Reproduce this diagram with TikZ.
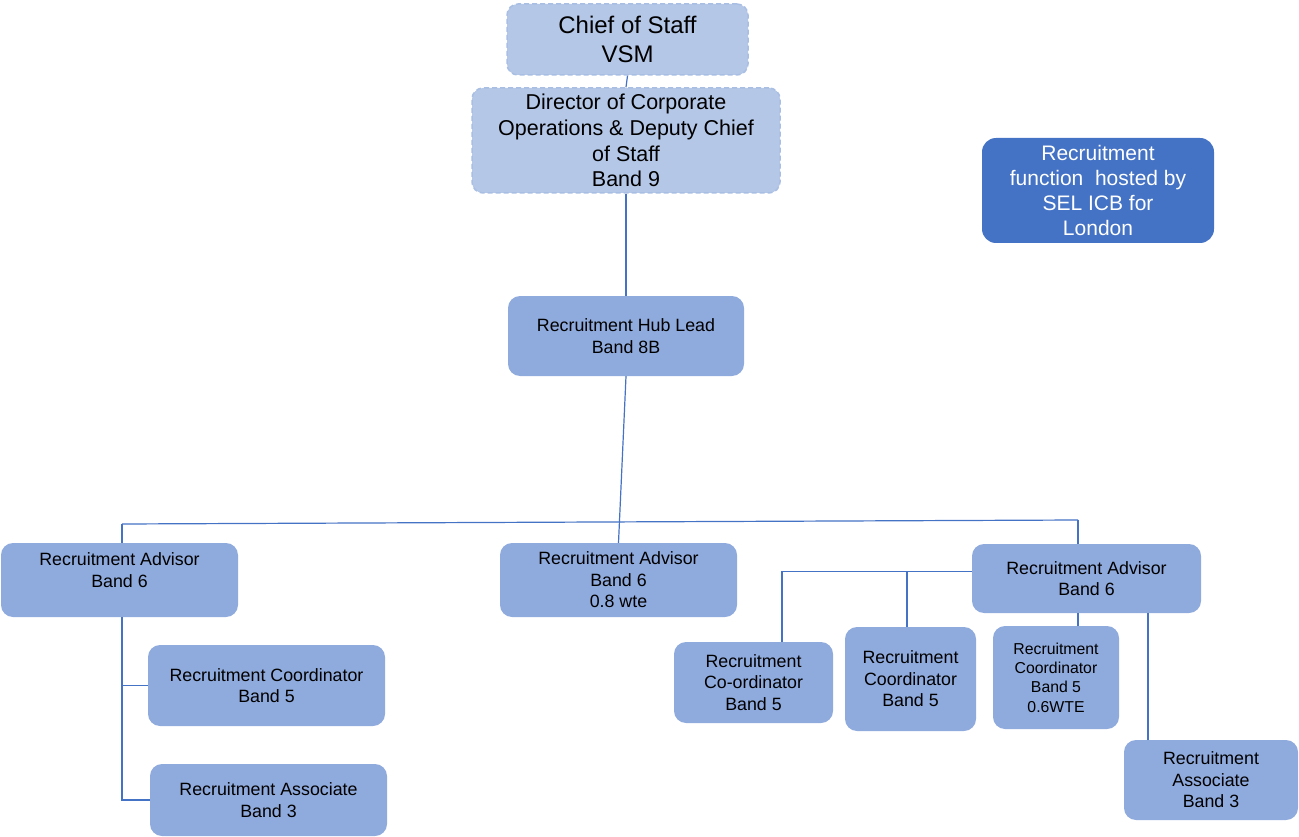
\documentclass[tikz,border=0pt]{standalone}
\usepackage{fontspec}
\setmainfont{Liberation Sans}
\definecolor{toplight}{HTML}{B4C7E7}
\definecolor{topedge}{HTML}{A9BEE3}
\definecolor{rolefill}{HTML}{8FAADC}
\definecolor{hostfill}{HTML}{4472C4}
\definecolor{linkblue}{HTML}{4472C4}
\begin{document}
\begin{tikzpicture}[x=1pt, y=-1pt,
  topbox/.style={draw=topedge, dash pattern=on 5pt off 3pt, line width=1.5pt,
    fill=toplight, rounded corners=11pt, align=center, inner sep=0pt},
  role/.style={fill=rolefill, rounded corners=12pt, align=center, inner sep=0pt,
    font=\fontsize{17.8}{21.5}\selectfont},
  link/.style={linkblue, line width=1.2pt}]
  \useasboundingbox (0,0) rectangle (1299,837);
  % top of the chart
  \node[topbox, minimum width=241pt, minimum height=71pt, font=\fontsize{24}{29}\selectfont]
    (chief) at (627.5,39.5) {Chief of Staff\\VSM};
  \node[topbox, minimum width=308pt, minimum height=105pt, font=\fontsize{21.5}{25.7}\selectfont]
    (dir) at (626,140.5) {Director of Corporate\\Operations \& Deputy Chief\\of Staff\\Band 9};
  \node[fill=hostfill, text=white, rounded corners=14pt, align=center, inner sep=0pt,
    minimum width=232pt, minimum height=105pt, font=\fontsize{21}{25}\selectfont]
    (host) at (1098,190.5) {Recruitment\\function\ \ hosted by\\SEL ICB for\\London};
  \node[role, minimum width=236pt, minimum height=80pt] (hub) at (626,336)
    {Recruitment Hub Lead\\Band 8B};
  % advisors
  \node[role, minimum width=237pt, minimum height=74pt, text depth=20pt] (adv1) at (119.5,580)
    {Recruitment Advisor\\Band 6};
  \node[role, minimum width=237pt, minimum height=74pt] (adv2) at (618.5,580)
    {Recruitment Advisor\\Band 6\\0.8 wte};
  \node[role, minimum width=229pt, minimum height=69pt] (adv3) at (1086.5,578.5)
    {Recruitment Advisor\\Band 6};
  % left team
  \node[role, minimum width=237pt, minimum height=81pt] (coord1) at (266.5,685.5)
    {Recruitment Coordinator\\Band 5};
  \node[role, minimum width=237pt, minimum height=72pt] (assoc1) at (268.5,800)
    {Recruitment Associate\\Band 3};
  % right team
  \node[role, minimum width=159pt, minimum height=81pt] (coord2) at (753.5,682.5)
    {Recruitment\\Co-ordinator\\Band 5};
  \node[role, minimum width=131pt, minimum height=104pt] (coord3) at (910.5,679)
    {Recruitment\\Coordinator\\Band 5};
  \node[role, minimum width=126pt, minimum height=103pt, font=\fontsize{15.8}{19.3}\selectfont]
    (coord4) at (1056,677.5) {Recruitment\\Coordinator\\Band 5\\0.6WTE};
  \node[role, minimum width=174pt, minimum height=80pt] (assoc2) at (1211,780)
    {Recruitment\\Associate\\Band 3};
  % connectors
  \draw[link] (chief.south) -- (dir.north);
  \draw[link] (dir.south) -- (hub.north);
  \draw[link] (hub.south) -- (adv2.north);
  \coordinate (barL) at (122,524);
  \coordinate (barR) at (1078,520);
  \draw[link] (barL) -- (barR);
  \draw[link] (barL) -- (barL |- adv1.north);
  \draw[link] (barR) -- (barR |- adv3.north);
  \coordinate (spineL) at ([xshift=2.5pt]adv1.south);
  \draw[link] (spineL) |- (assoc1.west);
  \draw[link] (spineL |- coord1.west) -- (coord1.west);
  \coordinate (armR) at ([yshift=7pt]adv3.west);
  \coordinate (tipA) at ([xshift=28.5pt]coord2.north);
  \coordinate (tipB) at ([xshift=-3.5pt]coord3.north);
  \draw[link] (armR) -| (tipA);
  \draw[link] (armR -| tipB) -- (tipB);
  \coordinate (dropA) at ([xshift=-8.5pt]adv3.south);
  \coordinate (dropB) at ([xshift=61.5pt]adv3.south);
  \draw[link] (dropA) -- (dropA |- coord4.north);
  \draw[link] (dropB) -- (dropB |- assoc2.north);
\end{tikzpicture}
\end{document}
